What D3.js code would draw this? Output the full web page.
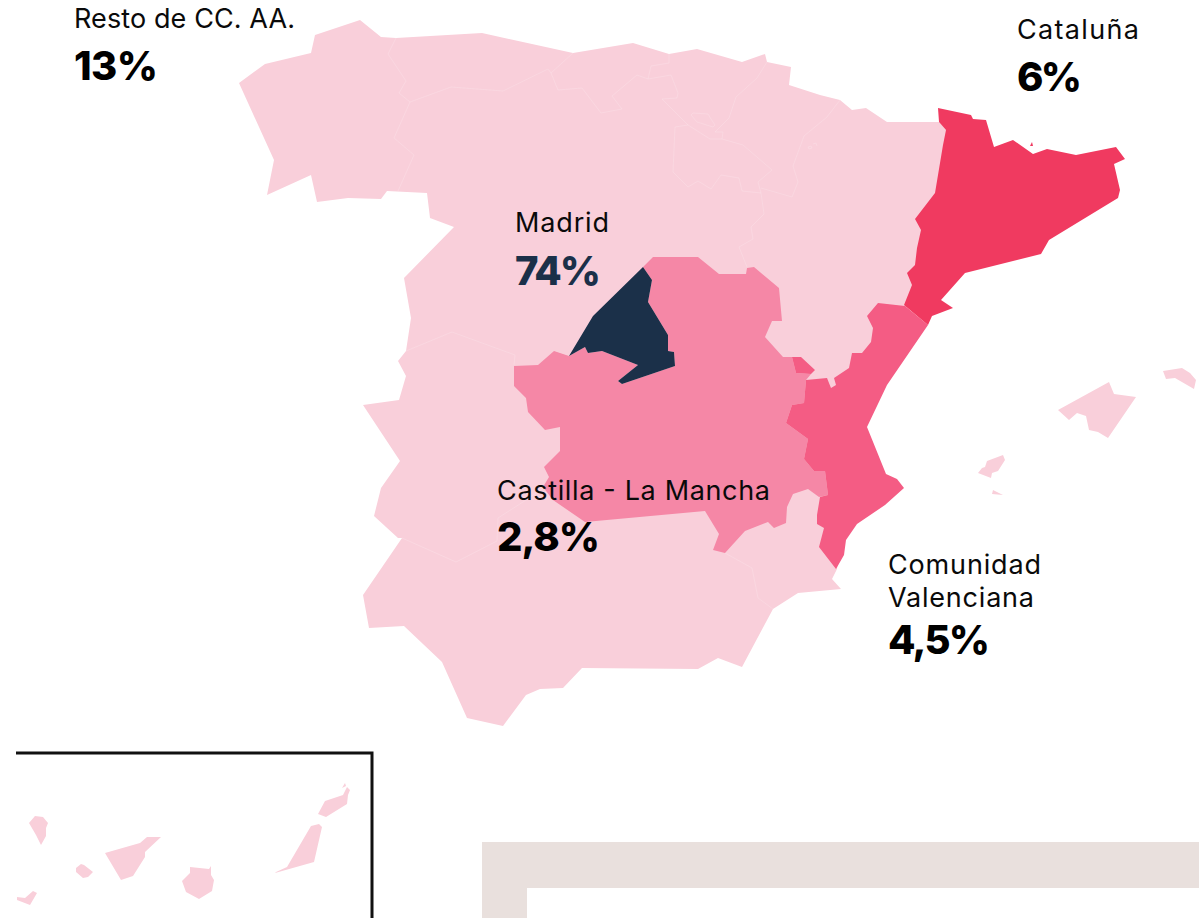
<!DOCTYPE html>
<html lang="es"><head><meta charset="utf-8">
<script src="https://cdn.jsdelivr.net/npm/d3@7"></script>
<style>html,body{margin:0;padding:0;background:#fff;overflow:hidden}svg{display:block}</style>
</head><body><svg id="c" width="1199" height="918"></svg>
<script>
const regionNames=["Resto de CC. AA.","Cataluña","Madrid","Castilla - La Mancha","Comunidad Valenciana"];
const shareLabels=["13%","6%","74%","2,8%","4,5%"];

const restoMainland=[[239,83],[265,64],[311,53],[315,35],[360,20],[381,37],[396,38],[482,33],[573,53],[633,43],[669,54],[697,49],[742,62],[765,54],[767,62],[791,67],[789,85],[820,95],[840,100],[852,110],[866,108],[887,122],[939,122],[946,130],[950,200],[905,310],[860,400],[837,569],[832,579],[841,589],[798,593],[773,609],[742,667],[718,658],[698,669],[582,668],[563,688],[540,689],[526,695],[503,726],[467,718],[442,662],[404,626],[369,628],[363,595],[402,538],[398,538],[374,516],[381,488],[400,461],[363,405],[399,400],[406,376],[398,361],[406,351],[411,318],[404,278],[454,227],[430,218],[427,193],[387,191],[381,199],[348,198],[317,202],[311,175],[267,195],[274,160]];
const mallorca=[[1058,410],[1109,382],[1114,394],[1136,397],[1108,438],[1098,432],[1089,430],[1086,416],[1077,413],[1069,420]];
const menorca=[[1163,371],[1182,368],[1190,373],[1196,380],[1194,389],[1175,378],[1166,379]];
const ibiza=[[978,473],[982,468],[985,467],[987,461],[1003,455],[1005,460],[998,471],[992,473],[991,478]];
const formentera=[[993,490],[1003,495],[992,494]];
const laPalma=[[29,823],[35,816],[43,817],[48,823],[46,828],[46,836],[41,845],[36,835]];
const elHierro=[[17,897],[25,898],[33,891],[37,893],[30,905],[17,900]];
const laGomera=[[76,868],[81,864],[84,865],[93,872],[88,877],[83,878],[76,872]];
const tenerife=[[105,853],[140,843],[147,837],[161,837],[145,852],[145,857],[133,876],[121,880]];
const granCanaria=[[190,867],[209,869],[211,866],[211,875],[214,880],[212,891],[199,899],[186,892],[182,881],[190,873]];
const fuerteventura=[[275,873],[276,872],[287,867],[311,826],[319,824],[322,827],[314,862]];
const lanzarote=[[318,814],[325,801],[343,795],[347,787],[350,790],[348,795],[347,804],[326,817]];
const graciosa=[[345,783],[346,786],[342,788]];

const castillaLaMancha=[[643,267],[653,257],[698,257],[719,274],[746,274],[747,268],[754,267],[779,288],[782,321],[772,321],[765,337],[783,357],[792,357],[796,373],[811,374],[806,380],[804,403],[792,405],[786,423],[808,439],[804,459],[814,471],[825,471],[828,495],[819,497],[808,489],[793,494],[787,507],[786,523],[774,528],[768,522],[745,531],[725,553],[713,550],[719,534],[705,511],[585,522],[553,500],[543,487],[549,477],[544,467],[560,451],[560,427],[545,430],[528,412],[526,398],[514,386],[514,366],[538,365],[554,351],[569,356],[585,347],[588,353],[602,351],[638,365],[618,381],[622,384],[675,366],[674,352],[668,351],[668,335],[648,302],[652,280]];
const madrid=[[643,267],[652,280],[648,302],[668,335],[668,351],[674,352],[675,366],[622,384],[618,381],[638,365],[602,351],[588,353],[585,347],[569,356],[593,316]];
const valencia=[[905,306],[928,325],[887,385],[867,427],[886,474],[897,479],[904,488],[885,505],[857,524],[846,540],[844,555],[836,569],[819,547],[824,528],[817,524],[817,515],[820,497],[828,495],[825,471],[814,471],[804,459],[808,439],[786,423],[792,405],[804,403],[806,380],[827,378],[831,388],[836,385],[834,378],[849,368],[852,353],[862,353],[871,342],[873,328],[867,316],[878,303]];
const ademuz=[[792,357],[801,357],[815,370],[811,374],[796,373]];
const cataluna=[[938,108],[971,115],[973,119],[986,120],[994,147],[1013,140],[1033,154],[1047,149],[1076,155],[1116,147],[1125,159],[1114,164],[1120,190],[1118,198],[1049,240],[1041,254],[965,273],[941,300],[953,308],[932,316],[928,325],[904,305],[912,285],[907,273],[915,265],[917,248],[921,230],[915,219],[935,193],[943,145],[946,130],[939,122]];
const medes=[[1032,142],[1033,146],[1030,146]];

const internalBorders=[
 [[396,38],[388,54],[406,81],[399,93],[410,102],[394,138],[414,155],[398,191]],
 [[410,102],[451,87],[503,91],[548,69],[551,73],[573,53]],
 [[551,73],[558,90],[582,88],[601,113],[622,109],[612,96],[637,75],[648,79],[651,66],[669,63],[669,54]],
 [[648,79],[671,75],[678,93],[677,98],[662,99],[688,125],[710,139],[722,139],[723,132],[715,132],[729,118],[736,97],[757,78],[767,62]],
 [[688,125],[675,127],[673,172],[688,187],[698,181],[711,189],[721,175],[739,178],[742,191],[761,193]],
 [[722,139],[743,145],[772,170],[758,182],[761,193],[764,214],[751,227],[753,239],[739,247],[747,267]],
 [[840,100],[827,117],[804,136],[793,166],[798,182],[792,197],[761,188]],
 [[691,115],[693,113],[708,114],[711,119],[715,125],[713,127],[697,122],[691,115]],
 [[808,147],[811,146],[812,148],[809,149],[808,147]],
 [[813,144],[816,143],[817,146]],
 [[406,351],[452,332],[515,355],[514,365]],
 [[402,538],[456,562],[497,541],[498,518],[523,502],[545,487]],
 [[725,553],[752,568],[758,598],[773,609]]
];

const colors={resto:"#f9cfda",clm:"#f587a6",madrid:"#1b3049",valencia:"#f45c84",cataluna:"#f03a60",beige:"#e9e0dd"};
const svg=d3.select("#c");
const path=d3.geoPath(d3.geoIdentity());
const poly=rings=>({type:"MultiPolygon",coordinates:rings.map(r=>[[...r,r[0]]])});
const lines=ls=>({type:"MultiLineString",coordinates:ls});

svg.append("rect").attr("x",482).attr("y",842).attr("width",717).attr("height",76).attr("fill",colors.beige);
svg.append("rect").attr("x",527).attr("y",888).attr("width",672).attr("height",30).attr("fill","#fff");
svg.append("path").attr("d","M16 753H372V918").attr("fill","none").attr("stroke","#111").attr("stroke-width",3);

const layers=[
 [[restoMainland,mallorca,menorca,ibiza,formentera,laPalma,elHierro,laGomera,tenerife,granCanaria,fuerteventura,lanzarote,graciosa],colors.resto],
 [[castillaLaMancha],colors.clm],
 [[madrid],colors.madrid],
 [[valencia,ademuz],colors.valencia],
 [[cataluna,medes],colors.cataluna]
];
svg.append("path").datum(poly(layers[0][0])).attr("d",path).attr("fill",colors.resto);
svg.append("path").datum(lines(internalBorders)).attr("d",path).attr("fill","none").attr("stroke","#fff").attr("stroke-opacity",.28).attr("stroke-width",.6);
svg.selectAll("path.r").data(layers.slice(1)).join("path").attr("class","r").attr("d",d=>path(poly(d[0]))).attr("fill",d=>d[1]);

const F="Inter";
const labelLayout=[
 {x:74,y:[28],w:[221],py:80,pw:84},{x:1017,y:[39],w:[122],py:91,pw:65},{x:515,y:[232],w:[94],py:285,pw:86,c:colors.madrid},{x:497,y:[500],w:[273],py:551,pw:103},{x:888,y:[574,607],w:[153,146],py:654,pw:102}
];
const labelLines=[[regionNames[0]],[regionNames[1]],[regionNames[2]],[regionNames[3]],["Comunidad","Valenciana"]];
labelLayout.forEach((l,i)=>{
 labelLines[i].forEach((t,j)=>svg.append("text").attr("x",l.x).attr("y",l.y[j]).attr("font-family",F).attr("font-size",27).attr("textLength",l.w[j]).attr("lengthAdjust","spacing").attr("fill","#0a0a0a").text(t));
 svg.append("text").attr("x",l.x).attr("y",l.py).attr("font-family",F).attr("font-weight",800).attr("font-size",40).attr("textLength",l.pw).attr("lengthAdjust","spacing").attr("fill",l.c||"#000").text(shareLabels[i]);
});
</script></body></html>
